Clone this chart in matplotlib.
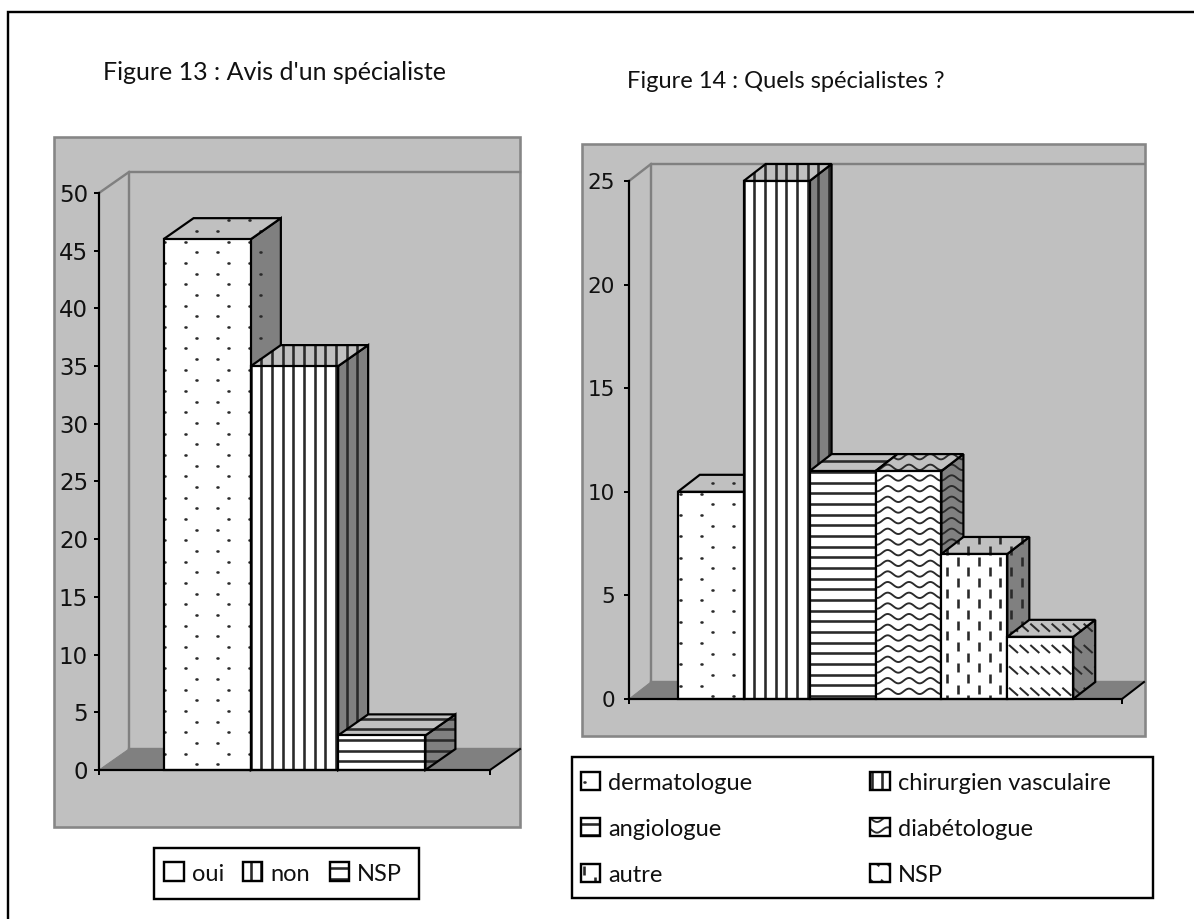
import numpy as np
import matplotlib
matplotlib.use("Agg")
import matplotlib.pyplot as plt
from matplotlib.collections import LineCollection
from matplotlib.lines import Line2D
from matplotlib.patches import Polygon, Rectangle
from matplotlib.transforms import IdentityTransform

title_13 = "Figure 13 : Avis d'un spécialiste"
labels_13 = ["oui", "non", "NSP"]
values_13 = [46, 35, 3]
yticks_13 = [0, 5, 10, 15, 20, 25, 30, 35, 40, 45, 50]

title_14 = "Figure 14 : Quels spécialistes ?"
labels_14 = ["dermatologue", "chirurgien vasculaire", "angiologue", "diabétologue", "autre", "NSP"]
values_14 = [10, 25, 11, 11, 7, 3]
yticks_14 = [0, 5, 10, 15, 20, 25]

W, H = 1194, 919
STEP = 32 / 3
GREY = "#c0c0c0"
DARK = "#808080"
INK = "#2a2a2a"
px = 72 / 100  # one pixel in points

fig = plt.figure(figsize=(W / 100, H / 100), dpi=100, facecolor="white")
identity = IdentityTransform()


def pattern(kind, x0, x1, y0, y1, phase):
    # texture in image pixels, on a grid that does not follow the face
    segs = []
    px0, py0 = phase
    i0 = int(np.floor((x0 - px0) / STEP)) - 2
    i1 = int(np.ceil((x1 - px0) / STEP)) + 2
    j0 = int(np.floor((y0 - py0) / STEP)) - 2
    j1 = int(np.ceil((y1 - py0) / STEP)) + 2
    if kind == "dots":
        for j in range(j0, j1):
            for i in range(i0, i1):
                if (i + j) % 2 == 0:
                    x, y = px0 + i * STEP, py0 + j * STEP
                    segs.append([(x - 0.4, y), (x + 0.4, y)])
    elif kind == "vert":
        for i in range(i0, i1):
            segs.append([(px0 + i * STEP, y0), (px0 + i * STEP, y1)])
    elif kind == "horiz":
        for j in range(j0, j1):
            segs.append([(x0, py0 + j * STEP), (x1, py0 + j * STEP)])
    elif kind == "wave":
        xs = np.arange(x0 - 2, x1 + 2, 1.0)
        for j in range(j0, j1):
            ys = py0 + j * STEP + 2.7 * np.sin((xs - px0) * 2 * np.pi / (2 * STEP))
            segs.append(np.column_stack([xs, ys]))
    elif kind == "dash":
        for j in range(j0, j1):
            for i in range(i0, i1):
                if (i + j) % 2 == 0:
                    x, y = px0 + i * STEP, py0 + j * STEP
                    segs.append([(x, y), (x, y + 9)])
    elif kind == "diag":
        for j in range(j0, j1):
            for i in range(i0, i1):
                if j % 2 == 0:
                    x, y = px0 + i * STEP, py0 + j * STEP
                    segs.append([(x, y), (x + 9, y + 8)])
    return [[(a, H - b) for a, b in s] for s in segs]


WIDTHS = {"dots": 2.6, "vert": 2.6, "horiz": 2.6, "wave": 1.9, "dash": 2.6, "diag": 2.0}


def face(ax, verts, color, kind=None, phase=None, zorder=3, edge="black", lw=2.2):
    # verts are display pixels
    poly = Polygon(verts, closed=True, facecolor=color, edgecolor="none",
                   transform=identity, clip_on=False, zorder=zorder)
    ax.add_patch(poly)
    if kind:
        xs = [v[0] for v in verts]
        ys = [H - v[1] for v in verts]
        segs = pattern(kind, min(xs), max(xs), min(ys), max(ys), phase)
        lc = LineCollection(segs, colors=INK, linewidths=WIDTHS[kind] * px,
                            transform=identity, zorder=zorder,
                            capstyle="round" if kind == "dots" else "butt")
        lc.set_clip_path(poly)
        ax.add_collection(lc, autolim=False)
    if edge:
        ax.add_patch(Polygon(verts, closed=True, facecolor="none", edgecolor=edge,
                             linewidth=lw * px, joinstyle="miter", transform=identity,
                             clip_on=False, zorder=zorder))


def chart(box, depth, values, yticks, kinds, phases, tick_size, pad, panel):
    x0, x1, y0, y1 = box  # image pixels of the front plane
    ax = fig.add_axes([x0 / W, 1 - y0 / H, (x1 - x0) / W, (y0 - y1) / H], facecolor="none")
    fig.add_artist(Rectangle((panel[0] / W, 1 - panel[3] / H), (panel[1] - panel[0]) / W,
                             (panel[3] - panel[2]) / H, transform=fig.transFigure,
                             facecolor=GREY, edgecolor="#868686", linewidth=2.6 * px, zorder=-5))
    gap = 0.74
    n = len(values)
    ax.set_xlim(-0.5 - gap, n - 0.5 + gap)
    ax.set_ylim(yticks[0], yticks[-1])
    ax.set_yticks(yticks)
    ax.set_xticks(ax.get_xlim())
    ax.set_xticklabels([])
    ax.tick_params(axis="both", length=5 * px, width=2 * px, color="black")
    ax.tick_params(axis="y", pad=pad, labelsize=tick_size, labelcolor="#111111")
    for lab in ax.get_yticklabels():
        lab.set_fontfamily("DejaVu Sans")
    for s in ["top", "right"]:
        ax.spines[s].set_visible(False)
    for s in ["left", "bottom"]:
        ax.spines[s].set_linewidth(2.2 * px)
        ax.spines[s].set_zorder(6)

    dx, dy = depth

    def at(x, y, d=0):
        p = ax.transData.transform((x, y))
        return (p[0] + d * dx, p[1] + d * dy)

    xa, xb = ax.get_xlim()
    ytop = yticks[-1]
    # walls and floor
    wall_lw = 2.4
    face(ax, [at(xa, 0), at(xb, 0), at(xb, 0, 1), at(xa, 0, 1)], DARK, zorder=1, edge=DARK, lw=1)
    ax.plot(*zip(at(xa, 0, 1), at(xa, ytop, 1), at(xb, ytop, 1)), color=DARK,
            lw=wall_lw * px, transform=identity, clip_on=False, zorder=1)
    ax.plot(*zip(at(xa, ytop), at(xa, ytop, 1)), color=DARK, lw=wall_lw * px,
            transform=identity, clip_on=False, zorder=1)
    ax.plot(*zip(at(xa, 0, 1), at(xb, 0, 1)), color=DARK, lw=wall_lw * px,
            transform=identity, clip_on=False, zorder=1)
    ax.plot(*zip(at(xb, 0), at(xb, 0, 1)), color="black", lw=2 * px,
            transform=identity, clip_on=False, zorder=2)

    # bars, left to right so that each one hides the side of the one before
    z = 3
    for i, v in enumerate(values):
        l, r = i - 0.5, i + 0.5
        kind, phase = kinds[i], phases[kinds[i]]
        face(ax, [at(r, 0), at(r, 0, 1), at(r, v, 1), at(r, v)], DARK, kind, phase, zorder=z)
        face(ax, [at(l, v), at(r, v), at(r, v, 1), at(l, v, 1)], GREY, kind, phase, zorder=z)
        face(ax, [at(l, 0), at(r, 0), at(r, v), at(l, v)], "white", kind, phase, zorder=z)
        z += 0.1
    return ax


def legend(ax, box, entries, phases, size):
    x0, x1, y0, y1 = box
    fig.add_artist(Rectangle((x0 / W, 1 - y1 / H), (x1 - x0) / W, (y1 - y0) / H,
                             transform=fig.transFigure, facecolor="white",
                             edgecolor="black", linewidth=2.4 * px, zorder=-4))
    for label, kind, sx0, sx1, sy0, sy1, tx, base in entries:
        verts = [(sx0, H - sy0), (sx1, H - sy0), (sx1, H - sy1), (sx0, H - sy1)]
        face(ax, verts, "white", kind, phases[kind], zorder=8, lw=2.4)
        fig.text(tx / W, 1 - base / H, label, fontsize=size, family="Lato", color="#111111", va="baseline")


phases_13 = {"dots": (175, 252.3), "vert": (272, 0), "horiz": (0, 750.7)}
kinds_13 = ["dots", "vert", "horiz"]
ax13 = chart((99, 490, 770, 193), (30, 21), values_13, yticks_13, kinds_13, phases_13,
             16.5, 4.3, (54, 520, 137, 827))

phases_14 = {"dots": (691, 504.3), "vert": (754.3, 0), "horiz": (0, 482.7), "wave": (893, 478),
             "dash": (957.7, 556.7), "diag": (1009, 645)}
kinds_14 = ["dots", "vert", "horiz", "wave", "dash", "diag"]
ax14 = chart((629, 1122, 699, 181), (22, 17), values_14, yticks_14, kinds_14, phases_14,
             15.5, 6.5, (582, 1145, 144, 736))

legend(ax13, (154, 419, 848, 899),
       [(labels_13[0], "dots", 164, 184, 862, 881, 192, 881),
        (labels_13[1], "vert", 243, 262, 862, 881, 270, 881),
        (labels_13[2], "horiz", 330, 349, 862, 881, 357, 881)],
       phases_13, 17)
legend(ax14, (572, 1153, 757, 898),
       [(labels_14[0], "dots", 581, 600, 772, 790, 608, 790),
        (labels_14[1], "vert", 870, 890, 772, 790, 898, 790),
        (labels_14[2], "horiz", 581, 600, 818, 836, 608, 836),
        (labels_14[3], "wave", 870, 890, 818, 836, 898, 836),
        (labels_14[4], "dash", 581, 600, 864, 882, 608, 882),
        (labels_14[5], "diag", 870, 890, 864, 882, 898, 882)],
       phases_14, 17)

fig.text(103 / W, 1 - 80 / H, title_13, fontsize=18, family="Lato", color="#111111", va="baseline")
fig.text(627 / W, 1 - 88 / H, title_14, fontsize=17, family="Lato", color="#111111", va="baseline")

# frame of the page, it only has a top and a left side in this crop
fig.add_artist(Line2D([8 / W, 8 / W, 1], [0, 1 - 12 / H, 1 - 12 / H], color="black",
                      lw=2.4 * px, solid_joinstyle="miter", zorder=-6))

fig.savefig("out.png", dpi=100)
